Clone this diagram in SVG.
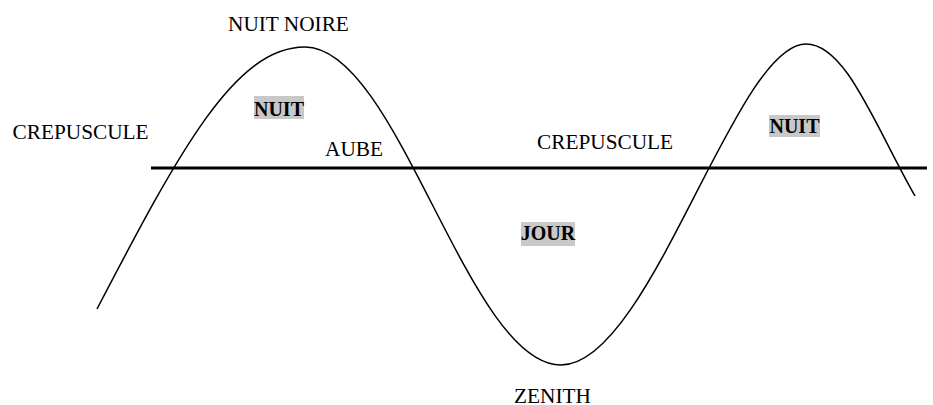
<svg xmlns="http://www.w3.org/2000/svg" width="933" height="405" viewBox="0 0 933 405">
<style>
.lbl{font-family:"Liberation Serif","Times New Roman",serif;font-size:21.3px;fill:#000}
.bold{font-family:"Liberation Serif","Times New Roman",serif;font-size:20px;font-weight:bold;fill:#000;text-anchor:middle}
.hl{fill:#c8c8c8}
</style>
<rect width="933" height="405" fill="#fff"/>
<g id="connectors">
<line x1="151" y1="168" x2="927" y2="168" stroke="#000" stroke-width="3"/>
<path d="M97,309 C180,150 235,47 305,47 C398,47 468,365 561,365 C650,365 735,44 806,44 C846,44 875,126 915,196" fill="none" stroke="#000" stroke-width="1.5"/>
</g>
<g id="nuit-noire"><text class="lbl" x="228" y="31">NUIT NOIRE</text></g>
<g id="crepuscule-left"><text class="lbl" x="12.5" y="139">CREPUSCULE</text></g>
<g id="aube"><text class="lbl" x="325" y="156">AUBE</text></g>
<g id="crepuscule-right"><text class="lbl" x="537" y="149">CREPUSCULE</text></g>
<g id="zenith"><text class="lbl" x="514" y="403">ZENITH</text></g>
<g id="nuit-left"><rect class="hl" x="254" y="96" width="50" height="23"/><text class="bold" x="279" y="116">NUIT</text></g>
<g id="nuit-right"><rect class="hl" x="769" y="115" width="51" height="22"/><text class="bold" x="794.5" y="133">NUIT</text></g>
<g id="jour"><rect class="hl" x="521" y="222" width="54" height="24"/><text class="bold" x="548" y="240">JOUR</text></g>
</svg>
